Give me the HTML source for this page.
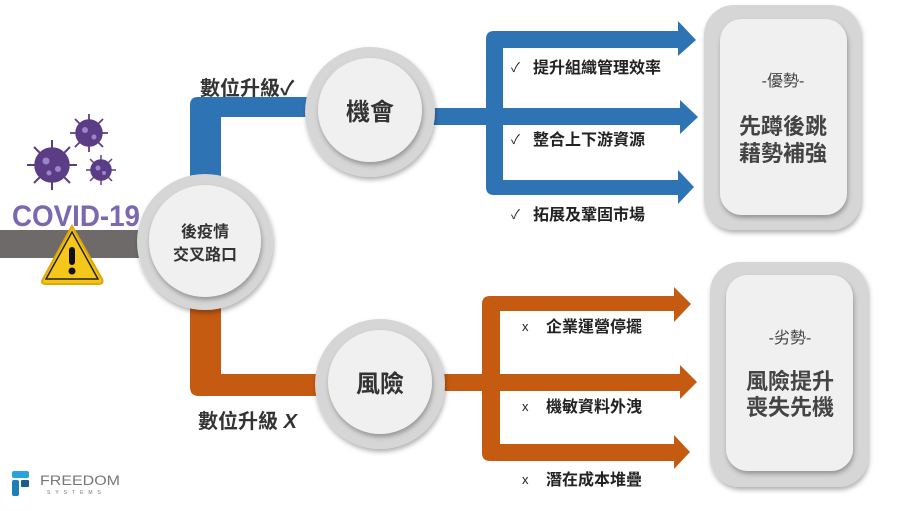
<!DOCTYPE html>
<html><head><meta charset="utf-8"><style>
html,body{margin:0;padding:0;background:#fff;}
svg text{font-family:"Liberation Sans","Noto Sans CJK TC",sans-serif;}
</style></head><body>
<svg width="900" height="506" viewBox="0 0 900 506" xmlns="http://www.w3.org/2000/svg">
<defs>
<filter id="sh" x="-20%" y="-20%" width="140%" height="140%"><feDropShadow dx="1" dy="3" stdDeviation="2.5" flood-color="#000" flood-opacity="0.3"/></filter>
</defs>
<rect x="0" y="230" width="150" height="28" fill="#6e6a6a"/>
<g fill="#5b3d86" stroke="#5b3d86" stroke-width="1.5">
<g transform="translate(52,165)"><circle r="17"/><g stroke-width="2"><line x1="-25" y1="0" x2="25" y2="0"/><line x1="0" y1="-25" x2="0" y2="25"/><line x1="-18" y1="-18" x2="18" y2="18"/><line x1="-18" y1="18" x2="18" y2="-18"/></g><circle cx="-6" cy="-4" r="3.5" fill="#9b85c9" stroke="none"/><circle cx="6" cy="4" r="3" fill="#9b85c9" stroke="none"/><circle cx="-3" cy="8" r="2.5" fill="#9b85c9" stroke="none"/></g>
<g transform="translate(89,133)"><circle r="13"/><g stroke-width="1.8"><line x1="-19" y1="0" x2="19" y2="0"/><line x1="0" y1="-19" x2="0" y2="19"/><line x1="-14" y1="-14" x2="14" y2="14"/><line x1="-14" y1="14" x2="14" y2="-14"/></g><circle cx="-4" cy="-3" r="3" fill="#9b85c9" stroke="none"/><circle cx="5" cy="4" r="2.5" fill="#9b85c9" stroke="none"/></g>
<g transform="translate(101,170)"><circle r="10"/><g stroke-width="1.5"><line x1="-15" y1="0" x2="15" y2="0"/><line x1="0" y1="-15" x2="0" y2="15"/><line x1="-11" y1="-11" x2="11" y2="11"/><line x1="-11" y1="11" x2="11" y2="-11"/></g><circle cx="-3" cy="-2" r="2.5" fill="#9b85c9" stroke="none"/><circle cx="3" cy="3" r="2" fill="#9b85c9" stroke="none"/></g>
</g>
<text x="76" y="226" text-anchor="middle" font-size="30" font-weight="bold" fill="#7b68b0" textLength="128" lengthAdjust="spacingAndGlyphs">COVID-19</text>
<path d="M72,226 L102,279 Q104,284 98,284 L46,284 Q40,284 43,279 Z" fill="#f2c418" stroke="#e0a800" stroke-width="2"/>
<path d="M72,232 L98,279 L46,279 Z" fill="#f5c71a" stroke="#222" stroke-width="1.5"/>
<rect x="69" y="247" width="6" height="18" rx="3" fill="#111"/>
<circle cx="72" cy="271" r="3.5" fill="#111"/>

<path d="M190,255 L190,105 Q190,97 198,97 L320,97 L320,117 L221,117 L221,255 Z" fill="#2e74b5"/>
<rect x="430" y="108" width="80" height="17" fill="#2e74b5"/>
<path d="M494,31 L678,31 L678,21 L696,40 L678,56 L678,48 L503,48 L503,180 L678,180 L678,170 L694,187 L678,204 L678,195 L494,195 Q486,195 486,187 L486,39 Q486,31 494,31 Z" fill="#2e74b5"/>
<path d="M503,108 L680,108 L680,100 L698,117 L680,134 L680,125 L503,125 Z" fill="#2e74b5"/>
<path d="M190,290 L190,387 Q190,396 199,396 L330,396 L330,374 L221,374 L221,290 Z" fill="#c55a11"/>
<rect x="430" y="374" width="60" height="17" fill="#c55a11"/>
<path d="M490,296 L674,296 L674,287 L691,304 L674,322 L674,311 L500,311 L500,444 L674,444 L674,435 L690,452 L674,469 L674,461 L490,461 Q482,461 482,453 L482,304 Q482,296 490,296 Z" fill="#c55a11"/>
<path d="M500,374 L680,374 L680,365 L697,382 L680,399 L680,391 L500,391 Z" fill="#c55a11"/>

<g filter="url(#sh)"><circle cx="205" cy="242" r="68" fill="#d6d6d6"/></g>
<g filter="url(#sh)"><circle cx="205" cy="241" r="56" fill="#f0f0f0"/></g>
<text x="205" y="237" text-anchor="middle" font-size="16" font-weight="bold" fill="#333">後疫情</text>
<text x="205" y="260" text-anchor="middle" font-size="16" font-weight="bold" fill="#333">交叉路口</text>

<g filter="url(#sh)"><circle cx="370" cy="112" r="65" fill="#d6d6d6"/></g>
<g filter="url(#sh)"><circle cx="370" cy="110" r="52" fill="#f0f0f0"/></g>
<text x="370" y="120" text-anchor="middle" font-size="24" font-weight="bold" fill="#333">機會</text>

<g filter="url(#sh)"><circle cx="380" cy="384" r="65" fill="#d6d6d6"/></g>
<g filter="url(#sh)"><circle cx="380" cy="382" r="52" fill="#f0f0f0"/></g>
<text x="380" y="392" text-anchor="middle" font-size="24" font-weight="bold" fill="#333">風險</text>

<text x="200" y="95" font-size="20" font-weight="bold" fill="#333">數位升級✓</text>
<text x="198" y="428" font-size="20" font-weight="bold" fill="#333">數位升級 <tspan font-style="italic">X</tspan></text>

<g font-size="13" fill="#222">
<text x="511" y="72">✓</text>
<text x="511" y="144">✓</text>
<text x="511" y="219">✓</text>
<text x="522" y="331">x</text>
<text x="522" y="411">x</text>
<text x="522" y="484">x</text>
</g>
<g font-size="16" font-weight="bold" fill="#222">
<text x="533" y="73">提升組織管理效率</text>
<text x="533" y="145">整合上下游資源</text>
<text x="533" y="220">拓展及鞏固市場</text>
<text x="546" y="332">企業運營停擺</text>
<text x="546" y="412">機敏資料外洩</text>
<text x="546" y="485">潛在成本堆疊</text>
</g>

<g filter="url(#sh)"><rect x="704" y="5" width="157" height="225" rx="30" fill="#d6d6d6"/></g>
<g filter="url(#sh)"><rect x="720" y="19" width="127" height="196" rx="22" fill="#f0f0f0"/></g>
<text x="783" y="86" text-anchor="middle" font-size="16" fill="#444">-優勢-</text>
<text x="783" y="134" text-anchor="middle" font-size="22" font-weight="bold" fill="#444">先蹲後跳</text>
<text x="783" y="161" text-anchor="middle" font-size="22" font-weight="bold" fill="#444">藉勢補強</text>

<g filter="url(#sh)"><rect x="710" y="262" width="158" height="225" rx="30" fill="#d6d6d6"/></g>
<g filter="url(#sh)"><rect x="726" y="275" width="127" height="196" rx="22" fill="#f0f0f0"/></g>
<text x="790" y="343" text-anchor="middle" font-size="16" fill="#444">-劣勢-</text>
<text x="790" y="389" text-anchor="middle" font-size="22" font-weight="bold" fill="#444">風險提升</text>
<text x="790" y="415" text-anchor="middle" font-size="22" font-weight="bold" fill="#444">喪失先機</text>

<rect x="12" y="471" width="17" height="7" rx="2" fill="#2aa3d8"/>
<rect x="12" y="480" width="7" height="16" rx="2" fill="#1d7fb8"/>
<rect x="21" y="480" width="8" height="7" rx="1" fill="#1a5f8a"/>
<text x="40" y="485" font-size="14" fill="#777" textLength="80" lengthAdjust="spacingAndGlyphs">FREEDOM</text>
<text x="47" y="494" font-size="5" fill="#777" letter-spacing="5">SYSTEMS</text>
</svg>
</body></html>
